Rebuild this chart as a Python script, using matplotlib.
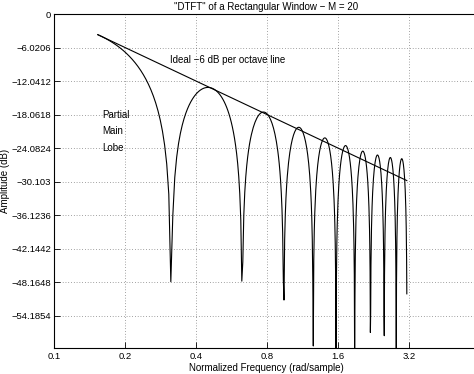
import numpy as np
import matplotlib
matplotlib.use("Agg")
import matplotlib.pyplot as plt
from matplotlib.ticker import FixedLocator, FixedFormatter

plt.rcParams['font.family'] = ['Liberation Sans', 'DejaVu Sans']
plt.rcParams['font.size'] = 7

# rectangular window, M = 20, evaluated on a freqz-like grid (0..pi, 512 pts)
M = 20
window = [1.0] * M
n_freq = 512
first_bin = 25          # plot starts inside the main lobe

x_ticks = [0.1, 0.2, 0.4, 0.8, 1.6, 3.2, 6.4]
x_ticklabels = ['0.1', '0.2', '0.4', '0.8', '1.6', '3.2', '6.4']
db_step = 6.0206
y_ticks = [-db_step * k for k in range(10)]
y_ticklabels = ['0', '\u22126.0206', '\u221212.0412', '\u221218.0618', '\u221224.0824',
                '\u221230.103', '\u221236.1236', '\u221242.1442', '\u221248.1648', '\u221254.1854']

# DTFT samples
w = np.pi * np.arange(n_freq) / n_freq
W = np.fft.fft(np.array(window), 2 * n_freq)[:n_freq]
mag = np.abs(W) / M
mag[mag < 1e-12] = 1e-12
db = 20 * np.log10(mag)
w_plot = w[first_bin:]
db_plot = db[first_bin:]

# ideal -6 dB per octave line from the first plotted point up to the last
line_w = np.array([w_plot[0], w_plot[-1]])
line_db = db_plot[0] - db_step * np.log2(line_w / w_plot[0])

fig = plt.figure(figsize=(4.74, 3.74), dpi=100)
ax = fig.add_axes([54 / 474, 26 / 374, 424 / 474, 334 / 374])

ax.semilogx(w_plot, db_plot, color='k', lw=0.8)
ax.semilogx(line_w, line_db, color='k', lw=0.8)

ax.set_xlim(0.1, 2 * np.pi)
ax.set_ylim(-60, 0)
ax.xaxis.set_major_locator(FixedLocator(x_ticks))
ax.xaxis.set_major_formatter(FixedFormatter(x_ticklabels))
ax.xaxis.set_minor_locator(FixedLocator([]))
ax.set_yticks(y_ticks)
ax.set_yticklabels(y_ticklabels)
ax.tick_params(direction='in', length=4, width=0.6, labelsize=6.8, pad=3)
ax.tick_params(axis='y', pad=2)
ax.grid(True, which='major', linestyle=(0, (1, 3)), color='k', lw=0.5, alpha=0.7)
for s in ax.spines.values():
    s.set_linewidth(0.8)

ax.set_title('"DTFT" of a Rectangular Window \u2212 M = 20', fontsize=7, pad=3)
ax.set_xlabel('Normalized Frequency (rad/sample)', fontsize=7, labelpad=1)
ax.set_ylabel('Amplitude (dB)', fontsize=7)
ax.yaxis.set_label_coords(-44 / 424, 0.5)

ax.text(0.31, -8.3, 'Ideal \u22126 dB per octave line', fontsize=7, va='center')
ax.text(0.16, -18.1, 'Partial', fontsize=7, va='center')
ax.text(0.16, -21.0, 'Main', fontsize=7, va='center')
ax.text(0.16, -24.0, 'Lobe', fontsize=7, va='center')

fig.savefig('out.png', dpi=100)
